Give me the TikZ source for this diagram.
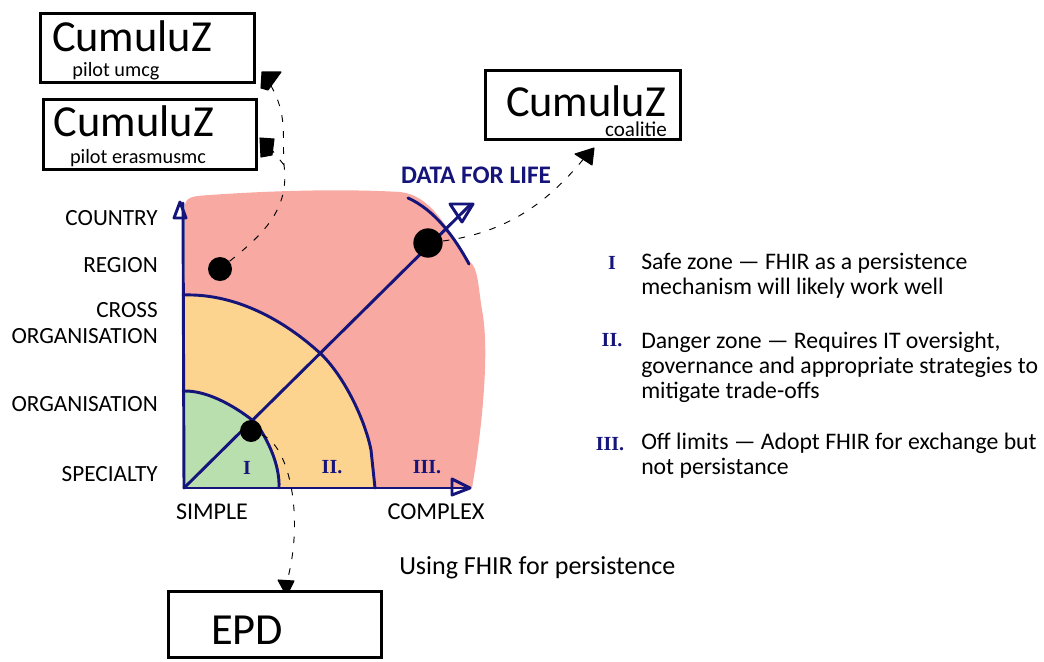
\documentclass[tikz,border=0pt]{standalone}
\usepackage{fontspec}
\setmainfont{Carlito}
\newfontfamily\numfont{Liberation Serif}
\usetikzlibrary{decorations.pathmorphing,arrows.meta,calc}
\definecolor{inkblue}{HTML}{14147A}
\definecolor{zonered}{HTML}{F8A9A1}
\definecolor{zoneorange}{HTML}{FDD48F}
\definecolor{zonegreen}{HTML}{BADFAF}
\newdimen\pxunit \pxunit=0.75pt
\newcommand{\fitw}[2]{\resizebox{#1\pxunit}{!}{#2}}
\tikzset{
  x=0.75pt,y=-0.75pt,
  handbox/.style={draw=black,line width=2.2pt,inner sep=0pt,rectangle},
  big/.style={inner sep=0pt,text=black},
  axis/.style={draw=inkblue,line width=2.2pt,line cap=round,line join=round},
  axislab/.style={inner sep=0pt,text=black,font=\fontsize{17.4}{19}\selectfont},
  dotn/.style={circle,fill=black,inner sep=0pt},
  link/.style={draw=black,line width=0.7pt,dash pattern=on 5pt off 7pt},
  legend/.style={inner sep=0pt,anchor=west,align=left,text=black,font=\fontsize{17.8}{18.7}\selectfont},
  roman/.style={inner sep=0pt,text=inkblue,font=\numfont\bfseries\fontsize{15}{15}\selectfont},
  tip/.style={fill=black,draw=black,line width=0.8pt,line join=round},
}
\begin{document}
\begin{tikzpicture}
\useasboundingbox (0,0) rectangle (1044,661);
% zones
\fill[zonered] (185,205) .. controls (186,196) and (196,196) .. (210,195)
  .. controls (280,190) and (350,189) .. (400,192)
  .. controls (430,195) and (445,225) .. (470,262)
  .. controls (478,268) and (478,285) .. (482,310)
  .. controls (490,350) and (482,430) .. (472,488)
  -- (183,488) -- cycle;
\fill[zoneorange] (183,295) .. controls (240,293) and (290,325) .. (322,355)
  .. controls (345,378) and (365,420) .. (371,450) -- (375,488) -- (183,488) -- cycle;
\fill[zonegreen] (183,391) .. controls (210,390) and (240,410) .. (256,423)
  .. controls (268,440) and (280,465) .. (279,488) -- (183,488) -- cycle;
% zone arcs
\draw[axis] (183,295) .. controls (240,293) and (290,325) .. (322,355)
  .. controls (345,378) and (365,420) .. (371,450) -- (375,488);
\draw[axis] (183,391) .. controls (210,390) and (240,410) .. (256,423)
  .. controls (268,440) and (280,465) .. (279,488);
\draw[axis] (408,198) .. controls (435,210) and (455,238) .. (469,264);
% axes
\coordinate (origin) at (184,488);
\coordinate (ytop) at (183,203);
\coordinate (xend) at (470,488);
\coordinate (dend) at (470,205);
\draw[axis] (origin) -- (ytop);
\draw[axis] (origin) -- (xend);
\draw[axis] (origin) -- (dend);
\draw[axis] (174,218) -- (180,202) -- (186,218) -- cycle;
\draw[axis] (452,479) -- (470,488) -- (452,495) -- cycle;
\draw[axis] (450,204) -- (473,204) -- (462,222) -- cycle;
% dots
\node[dotn,minimum size=18pt] (dotA) at (220,269) {};
\node[dotn,minimum size=22pt] (dotB) at (428,243) {};
\node[dotn,minimum size=16.5pt] (dotC) at (251,431) {};
% boxes
\node[handbox,minimum width=160pt,minimum height=52pt] (boxU) at (147.5,48) {};
\node[handbox,minimum width=160pt,minimum height=52pt] (boxE) at (150,134.5) {};
\node[handbox,minimum width=146pt,minimum height=52pt] (boxC) at (583,105) {};
\node[handbox,minimum width=160pt,minimum height=50pt] (boxP) at (275,624.5) {};
\node[big] (titleU) at (132,36) {\fitw{160}{\fontsize{40}{40}\selectfont CumuluZ}};
\node[big] (titleE) at (134,121) {\fitw{160}{\fontsize{40}{40}\selectfont CumuluZ}};
\node[big] (titleC) at (586,101) {\fitw{160}{\fontsize{40}{40}\selectfont CumuluZ}};
\node[big] (subU) at (116,71) {\fitw{87}{\fontsize{13}{13}\selectfont pilot umcg}};
\node[big] (subE) at (138,158) {\fitw{136}{\fontsize{13}{13}\selectfont pilot erasmusmc}};
\node[big] (subC) at (636,129) {\fitw{62}{\fontsize{13}{13}\selectfont coalitie}};
\node[big] (titleP) at (247,630) {\fitw{72}{\fontsize{30}{30}\selectfont EPD}};
% connectors
\coordinate (tipU) at (270,84);
\coordinate (tipE) at (272,150);
\coordinate (fork) at (284,165);
\coordinate (tipC) at (586,156);
\coordinate (tipP) at (286,585);
\draw[link] (dotA) .. controls (262,235) and (290,210) .. (fork)
  .. controls (282,135) and (288,115) .. (tipU);
\draw[link] (fork) -- (tipE);
\draw[link] (dotB) .. controls (510,232) and (550,200) .. (tipC);
\draw[link] (dotC) .. controls (290,445) and (305,520) .. (tipP);
\fill[tip] (262,72) -- (281,72) -- (268,90) -- (261,88) -- cycle;
\fill[tip] (260,138) -- (274,139) -- (272,155) -- (261,157) -- cycle;
\fill[tip] (575,154) -- (594,148) -- (592,165) -- cycle;
\fill[tip] (278,580) -- (294,581) -- (289,591) -- (284,591) -- cycle;
% labels
\node[axislab,anchor=east] (lCountry) at (158,218) {COUNTRY};
\node[axislab,anchor=east] (lRegion) at (158,265) {REGION};
\node[axislab,anchor=east,align=right] (lCross) at (158,323) {CROSS\\ORGANISATION};
\node[axislab,anchor=east] (lOrg) at (158,404) {ORGANISATION};
\node[axislab,anchor=east] (lSpec) at (158,474) {SPECIALTY};
\node[axislab] (lSimple) at (212,512) {\fitw{72}{SIMPLE}};
\node[axislab] (lComplex) at (436,512) {\fitw{97}{COMPLEX}};
\node[inner sep=0pt,text=inkblue] (lData) at (476,175) {\fitw{150}{\fontsize{15}{15}\selectfont\bfseries DATA FOR LIFE}};
\node[inner sep=0pt,anchor=west] (lUsing) at (399,568) {\fitw{276}{\fontsize{16}{16}\selectfont Using FHIR for persistence}};
% zone numerals
\node[roman] (zI) at (247,468) {I};
\node[roman] (zII) at (332,467) {II.};
\node[roman] (zIII) at (427,467) {III.};
\node[roman] (kI) at (612,263) {I};
\node[roman] (kII) at (612,340) {II.};
\node[roman] (kIII) at (610,444) {III.};
% legend
\node[legend] (tI) at (641,276) {Safe zone --- FHIR as a persistence\\mechanism will likely work well};
\node[legend] (tII) at (641,367) {Danger zone --- Requires IT oversight,\\governance and appropriate strategies to\\mitigate trade-offs};
\node[legend] (tIII) at (641,456) {Off limits --- Adopt FHIR for exchange but\\not persistance};
\end{tikzpicture}
\end{document}
